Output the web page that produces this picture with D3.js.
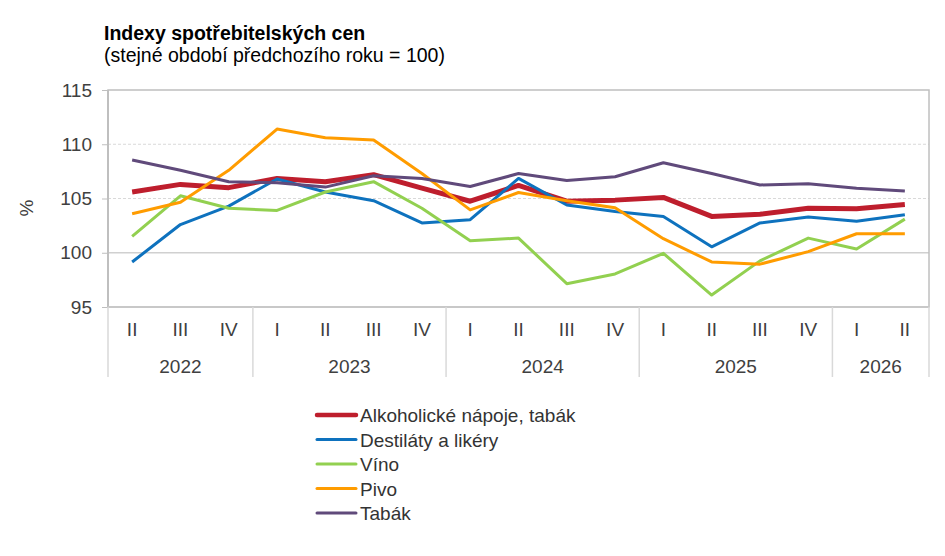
<!DOCTYPE html>
<html>
<head>
<meta charset="utf-8">
<script src="https://cdn.jsdelivr.net/npm/d3@7"></script>
<style>
  body { margin: 0; background: #fff; }
  text { font-family: "Liberation Sans", Arial, sans-serif; }
</style>
</head>
<body>
<svg id="chart" width="945" height="556"></svg>
<script>
// quarters along the x axis, grouped by year
var quarters = ["II", "III", "IV", "I", "II", "III", "IV", "I", "II", "III", "IV", "I", "II", "III", "IV", "I", "II"];
var yearLabels = ["2022", "2023", "2024", "2025", "2026"];
var yearQuarterCounts = [3, 4, 4, 4, 2];
var yTicks = [95, 100, 105, 110, 115];

// index values (same period of previous year = 100)
var alkoholickeNapoje = [105.6, 106.3, 106.0, 106.85, 106.55, 107.2, 105.95, 104.75, 106.2, 104.75, 104.85, 105.1, 103.35, 103.55, 104.1, 104.05, 104.45];
var destilaty = [99.15, 102.6, 104.3, 106.8, 105.6, 104.8, 102.75, 103.05, 106.85, 104.4, 103.8, 103.35, 100.55, 102.75, 103.3, 102.9, 103.5];
var vino = [101.5, 105.25, 104.1, 103.9, 105.6, 106.55, 104.1, 101.1, 101.35, 97.15, 98.05, 99.95, 96.1, 99.25, 101.35, 100.35, 103.1];
var pivo = [103.6, 104.65, 107.6, 111.4, 110.6, 110.4, 107.3, 103.95, 105.55, 104.8, 104.15, 101.3, 99.15, 98.95, 100.1, 101.75, 101.75];
var tabak = [108.55, 107.6, 106.55, 106.45, 106.05, 107.1, 106.85, 106.1, 107.3, 106.65, 107.0, 108.3, 107.3, 106.25, 106.35, 105.95, 105.7];

var series = [
    { name: "Alkoholické nápoje, tabák", values: alkoholickeNapoje, color: "#be1e2d", width: 5 },
    { name: "Destiláty a likéry", values: destilaty, color: "#0e72be", width: 3 },
    { name: "Víno", values: vino, color: "#92d050", width: 3 },
    { name: "Pivo", values: pivo, color: "#ff9c00", width: 3 },
    { name: "Tabák", values: tabak, color: "#604a7b", width: 3 }
];

var margin = { left: 108, right: 16, top: 90, bottom: 249 };
var width = 945, height = 556;
var plotBottom = height - margin.bottom;
var plotRight = width - margin.right;

var svg = d3.select("#chart");

var x = d3.scaleBand()
    .domain(d3.range(quarters.length))
    .range([margin.left, plotRight]);

var y = d3.scaleLinear()
    .domain([95, 115])
    .range([plotBottom, margin.top]);

// title
svg.append("text")
    .attr("x", 104).attr("y", 40)
    .style("font-size", "19.5px").style("font-weight", "bold").style("fill", "#000")
    .text("Indexy spotřebitelských cen");
svg.append("text")
    .attr("x", 104).attr("y", 62)
    .style("font-size", "19.5px").style("fill", "#000")
    .text("(stejné období předchozího roku = 100)");

// gridlines
yTicks.forEach(function (t) {
    if (t == 95 || t == 115) return;
    svg.append("line")
        .attr("x1", margin.left).attr("x2", plotRight)
        .attr("y1", y(t)).attr("y2", y(t))
        .style("stroke", t == 100 ? "#d0d0d0" : "#d9d9d9")
        .style("stroke-width", t == 100 ? 1.5 : 1)
        .style("stroke-dasharray", t == 100 ? null : "3,2");
});

// plot frame
svg.append("rect")
    .attr("x", margin.left).attr("y", margin.top)
    .attr("width", plotRight - margin.left).attr("height", plotBottom - margin.top)
    .style("fill", "none").style("stroke", "#bfbfbf").style("stroke-width", 1.5);
svg.append("line")
    .attr("x1", margin.left).attr("x2", margin.left)
    .attr("y1", margin.top).attr("y2", plotBottom)
    .style("stroke", "#bfbfbf").style("stroke-width", 2);
svg.append("line")
    .attr("x1", margin.left).attr("x2", plotRight)
    .attr("y1", plotBottom).attr("y2", plotBottom)
    .style("stroke", "#c8c8c8").style("stroke-width", 2);

// y axis
var yAxis = svg.append("g")
    .attr("transform", "translate(" + margin.left + ",0)")
    .call(d3.axisLeft(y).tickValues(yTicks).tickSize(6).tickPadding(10));
yAxis.select(".domain").remove();
yAxis.selectAll(".tick line").style("stroke", "#bfbfbf");
yAxis.selectAll(".tick text")
    .style("font-size", "19px").style("fill", "#404040")
    .style("font-family", "'Liberation Sans', Arial, sans-serif");

svg.append("text")
    .attr("transform", "translate(33,208) rotate(-90)")
    .attr("text-anchor", "middle")
    .style("font-size", "19px").style("fill", "#404040")
    .text("%");

// x axis: quarter labels
svg.append("g").selectAll("text")
    .data(quarters)
    .join("text")
    .attr("x", function (d, i) { return x(i) + x.bandwidth() / 2; })
    .attr("y", 336)
    .attr("text-anchor", "middle")
    .style("font-size", "19px").style("fill", "#404040")
    .text(function (d) { return d; });

// year groups and separators
var start = 0;
var separators = [0];
yearLabels.forEach(function (yr, k) {
    var count = yearQuarterCounts[k];
    var x0 = x(start), x1 = x(start + count - 1) + x.bandwidth();
    svg.append("text")
        .attr("x", (x0 + x1) / 2).attr("y", 373)
        .attr("text-anchor", "middle")
        .style("font-size", "19px").style("fill", "#404040")
        .text(yr);
    start += count;
    separators.push(start);
});
separators.forEach(function (s) {
    var sx = s < quarters.length ? x(s) : plotRight;
    svg.append("line")
        .attr("x1", sx).attr("x2", sx)
        .attr("y1", plotBottom).attr("y2", 377)
        .style("stroke", "#d9d9d9").style("stroke-width", 1.5);
});

// series lines
var line = d3.line()
    .x(function (d, i) { return x(i) + x.bandwidth() / 2; })
    .y(function (d) { return y(d); });

series.forEach(function (s) {
    svg.append("path")
        .datum(s.values)
        .attr("d", line)
        .style("fill", "none")
        .style("stroke", s.color)
        .style("stroke-width", s.width)
        .style("stroke-linejoin", "round");
});

// legend
var legend = svg.append("g").attr("transform", "translate(317,415)");
series.forEach(function (s, i) {
    var row = legend.append("g").attr("transform", "translate(0," + (i * 24.5) + ")");
    row.append("line")
        .attr("x1", 0).attr("x2", 39)
        .attr("y1", 0).attr("y2", 0)
        .style("stroke", s.color)
        .style("stroke-width", i == 0 ? 4.5 : 3)
        .style("stroke-linecap", "round");
    row.append("text")
        .attr("x", 43).attr("y", 7)
        .style("font-size", "19px").style("fill", "#333")
        .text(s.name);
});
</script>
</body>
</html>
